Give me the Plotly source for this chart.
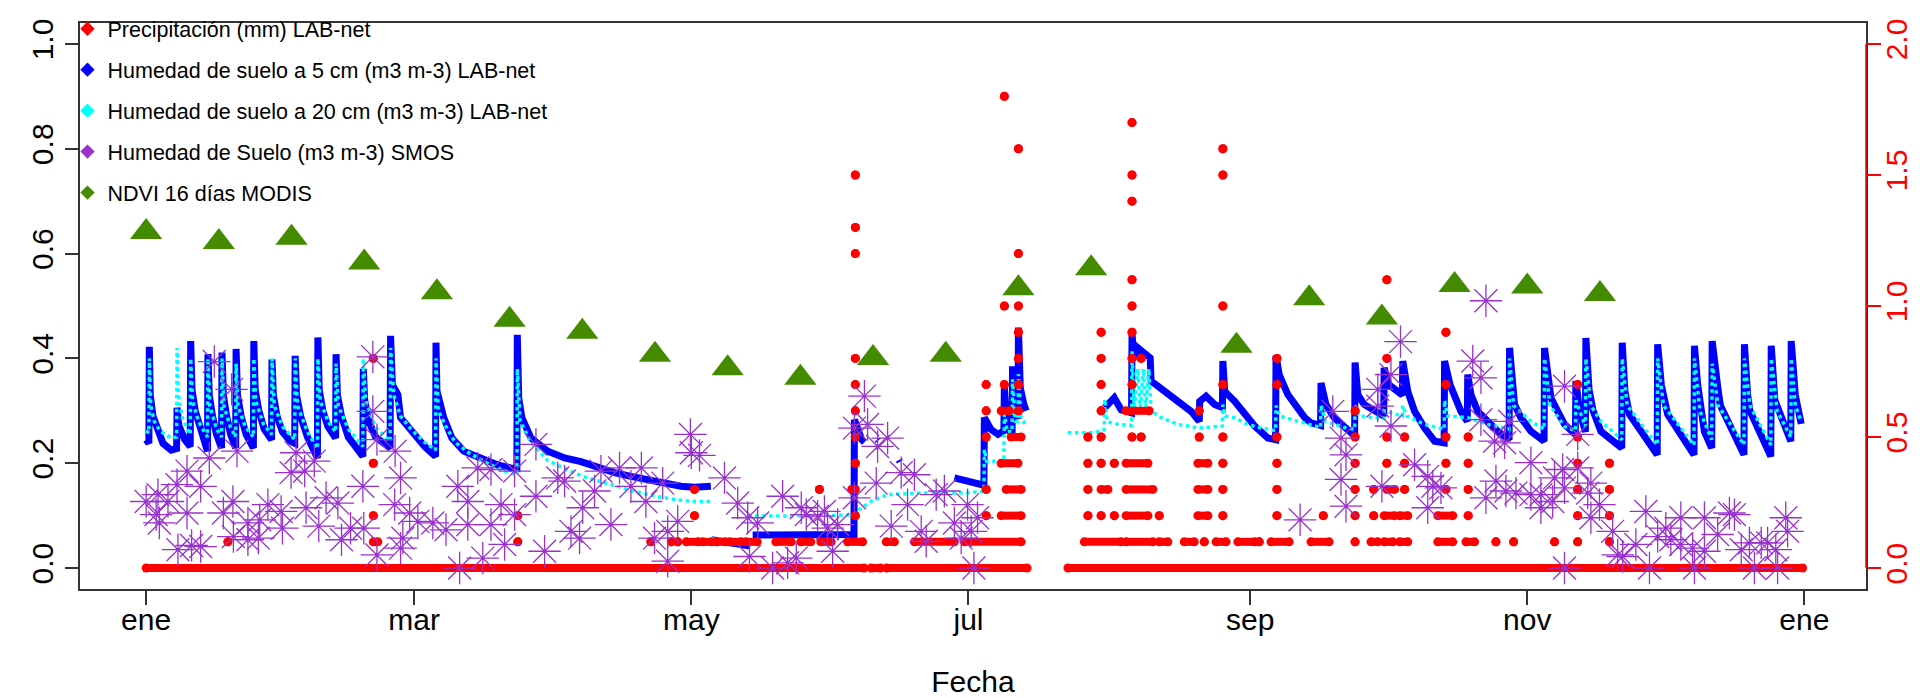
import pandas as pd
import plotly.graph_objects as go

# ---------------- data (day offsets from 1 January 2015) ----------------
start_date = "2015-01-01"

tick_dates = ["2015-01-01", "2015-03-01", "2015-05-01", "2015-07-01",
              "2015-09-01", "2015-11-01", "2016-01-01"]
tick_labels = ["ene", "mar", "may", "jul", "sep", "nov", "ene"]

legend_names = ["Precipitación (mm) LAB-net",
                "Humedad de suelo a 5 cm (m3 m-3) LAB-net",
                "Humedad de suelo a 20 cm (m3 m-3) LAB-net",
                "Humedad de Suelo (m3 m-3) SMOS",
                "NDVI 16 días MODIS"]

# NDVI 16-day MODIS
ndvi_day = [0, 16, 32, 48, 64, 80, 96, 112, 128, 144, 160, 176, 192, 208,
            240, 256, 272, 288, 304, 320]
ndvi_val = [0.641, 0.622, 0.630, 0.583, 0.526, 0.474, 0.451, 0.407, 0.381, 0.363,
            0.401, 0.407, 0.534, 0.572, 0.424, 0.515, 0.478, 0.540, 0.537, 0.523]

# SMOS soil moisture
smos_day = [0.0, 2.2, 2.6, 2.9, 4.8, 6.8, 7.0, 9.0, 9.0, 10.0, 12.0, 12.0, 13.9, 15.0,
            17.0, 18.8, 19.1, 19.2, 20.0, 22.4, 22.4, 24.7, 25.0, 26.8, 29.7, 30.0,
            31.9, 33.0, 34.9, 35.2, 37.0, 38.0, 39.6, 42.2, 43.0, 45.0, 47.7, 47.9,
            49.9, 49.9, 50.8, 50.8, 54.7, 54.8, 56.0, 56.0,
            58.0, 59.8, 63.1, 66.0, 56.5, 68.6, 69.0, 70.8, 70.8, 73.0, 74.1, 75.9,
            75.9, 78.1, 78.9, 81.1, 81.1, 85.8, 85.8, 87.7, 90.6, 92.1, 93.5, 95.4,
            96.1, 98.7, 100.1, 102.3, 104.2, 106.7, 109.0, 110.0, 111.9, 113.7,
            114.8, 114.8, 117.0, 119.8, 120.0,
            121.8, 127.3, 130.2, 132.4, 132.8, 134.6, 137.9, 140.1, 141.2, 143.1,
            144.2, 145.3, 147.8, 149.3, 150.0, 151.1, 152.2, 155.9, 155.9, 158.1,
            158.8, 160.7, 161.0, 163.2, 164.0, 166.2, 167.6, 169.1, 170.6, 171.7,
            173.9, 175.7, 177.9, 179.4, 180.8, 181.6, 182.2, 183.0,
            254.0, 261.2, 263.0, 264.1, 263.0, 264.1, 271.1, 271.1, 276.1, 274.0,
            274.0, 272.0, 279.2, 282.1, 283.2, 285.0, 282.1, 294.9, 292.0, 293.8,
            293.8, 296.8, 299.0, 300.1, 294.9, 297.1, 299.3, 301.5, 304.8, 304.8,
            307.0, 307.0, 309.6, 310.0, 312.2, 311.8, 312.2, 312.2,
            315.1, 315.1, 318.0, 317.3, 319.9, 318.0, 322.8, 323.9, 325.0, 327.9,
            330.1, 330.9, 332.7, 334.5, 335.6, 337.8, 337.8, 340.4, 340.8, 343.0,
            343.0, 345.9, 348.5, 349.6, 351.1, 352.9, 354.0, 355.5, 356.9, 358.7,
            359.1, 360.9, 361.3]
smos_val = [0.127, 0.102, 0.140, 0.086, 0.127, 0.159, 0.035, 0.185, 0.105, 0.043, 0.156,
            0.041, 0.210, 0.394, 0.105, 0.341, 0.127, 0.060, 0.223, 0.086, 0.054, 0.057,
            0.092, 0.121, 0.108, 0.076, 0.182, 0.220, 0.185, 0.115, 0.204, 0.080, 0.134,
            0.124, 0.054, 0.076, 0.156, 0.076, 0.403, 0.299, 0.245, 0.025, 0.121, 0.223,
            0.172, 0.038,
            0.105, 0.089, 0.086, 0.073, 0.057, 0.156, 0.000, 0.127, 0.083, 0.191, 0.019,
            0.188, 0.083, 0.121, 0.045, 0.185, 0.102, 0.137, 0.236, 0.032, 0.172, 0.166,
            0.070, 0.057, 0.115, 0.147, 0.185, 0.083, 0.191, 0.156, 0.191, 0.127, 0.057,
            0.162, 0.013, 0.070, 0.089, 0.255, 0.220,
            0.215, 0.172, 0.124, 0.096, 0.022, 0.086, 0.000, 0.137, 0.010, 0.019, 0.115,
            0.102, 0.099, 0.108, 0.076, 0.032, 0.083, 0.267, 0.134, 0.328, 0.274, 0.162,
            0.232, 0.248, 0.080, 0.182, 0.121, 0.178, 0.070, 0.051, 0.140, 0.147, 0.086,
            0.057, 0.121, 0.070, 0.000, 0.096,
            0.092, 0.299, 0.248, 0.216, 0.169, 0.118, 0.341, 0.309, 0.432, 0.369, 0.271,
            0.156, 0.197, 0.175, 0.156, 0.153, 0.115, 0.510, 0.395, 0.363, 0.283, 0.242,
            0.239, 0.280, 0.134, 0.166, 0.147, 0.143, 0.201, 0.140, 0.140, 0.115, 0.127,
            0.172, 0.347, 0.188, 0.153, 0.000,
            0.255, 0.191, 0.162, 0.143, 0.121, 0.096, 0.070, 0.025, 0.022, 0.045, 0.108,
            0.000, 0.060, 0.076, 0.054, 0.096, 0.045, 0.038, 0.000, 0.096, 0.032, 0.064,
            0.105, 0.102, 0.035, 0.048, 0.000, 0.048, 0.048, 0.035, 0.000, 0.096, 0.070]

# LAB-net soil moisture at 5 cm (None = no data)
sm5_day = [0.0, 0.6, 0.7, 0.9, 1.5, 2.6, 3.7, 5.5, 6.7,
           6.8, 7.2, 8.5, 9.7,
           9.8, 10.1, 10.8, 12.0, 13.5,
           13.6, 13.9, 14.6, 15.5, 16.6,
           16.7, 17.0, 17.7, 18.6, 19.7,
           19.8, 20.1, 20.9, 22.0, 23.6,
           23.7, 24.0, 24.8, 26.0, 27.6,
           27.7, 28.0, 28.8, 30.0, 31.7, 32.7,
           32.8, 33.1, 34.0, 35.5, 37.7,
           37.8, 38.1, 38.9, 40.0, 41.7,
           41.8, 42.1, 43.0, 44.5, 47.7,
           47.8, 48.1, 49.0, 50.5, 53.7,
           53.8, 54.2, 55.4, 56.0, 58.3, 61.3, 63.7,
           63.8, 64.0, 65.5, 67.3, 69.9, 73.6, 77.3, 80.2, 81.6,
           81.7, 82.0, 82.7, 84.7, 88.4, 92.1, 95.7, 99.4, 103.1, 106.7, 110.4, 114.1,
           117.7, 120.7, 124.3, None,
           124.5, 128.0, 133.0, None,
           133.5, 145.0, 155.8, 155.9, 156.5, 157.5, 158.1, None,
           160.9, 161.1, None, 165.7, 165.9, None,
           177.9, 181.0, 184.4, 184.5, 186.0, 187.5, 188.8, 188.9, 189.4, 190.6, 190.7,
           191.2, 191.9, 192.0, 192.4, 193.2, 193.7, None,
           211.0, 212.4, 213.1, 214.6, 216.9, 217.0, 217.5, 218.3, 221.0, 221.2, 223.4,
           227.1, 230.0, 231.8, 231.9, 233.3, 235.2, 236.9, 237.0, 237.4, 239.6, 241.8,
           244.0, 246.9, 248.6,
           248.7, 249.4, 251.3, 253.5, 255.0, 256.4, 258.5,
           258.6, 259.7, 261.5, 263.8, 266.0,
           266.1, 266.7, 268.1, 270.3, 272.4,
           272.5, 273.5, 276.5,
           276.6, 277.7, 279.2, 281.4, 283.6, 285.7,
           285.8, 287.0, 289.4, 290.8,
           290.9, 291.6, 293.1, 295.3, 297.5, 300.0,
           300.1, 301.2, 302.6, 304.8, 307.7,
           307.8, 309.2, 310.7, 312.2, 314.6,
           314.7, 315.5, 316.8,
           316.9, 317.6, 318.5, 320.2, 324.8,
           324.9, 325.5, 326.5, 332.6,
           332.7, 333.5, 334.9, 340.7,
           340.8, 341.5, 343.0, 344.6,
           344.7, 346.0, 346.5, 351.7,
           351.8, 352.5, 353.0, 357.6,
           357.7, 358.5, 362.0,
           362.1, 363.0, 364.3]
sm5_val = [0.245, 0.238, 0.422, 0.330, 0.290, 0.262, 0.238, 0.225, 0.228,
           0.306, 0.272, 0.245, 0.232,
           0.433, 0.340, 0.300, 0.260, 0.223,
           0.408, 0.330, 0.290, 0.255, 0.229,
           0.411, 0.330, 0.290, 0.255, 0.229,
           0.418, 0.330, 0.290, 0.255, 0.229,
           0.433, 0.340, 0.300, 0.265, 0.245,
           0.398, 0.330, 0.290, 0.260, 0.242, 0.238,
           0.405, 0.330, 0.290, 0.250, 0.210,
           0.440, 0.340, 0.300, 0.270, 0.248,
           0.408, 0.330, 0.290, 0.250, 0.213,
           0.380, 0.320, 0.280, 0.250, 0.229,
           0.443, 0.350, 0.331, 0.287, 0.261, 0.232, 0.213,
           0.430, 0.338, 0.287, 0.248, 0.223, 0.210, 0.197, 0.191, 0.190,
           0.445, 0.325, 0.287, 0.248, 0.223, 0.210, 0.203, 0.191, 0.182, 0.175, 0.169,
           0.160, 0.156, 0.154, 0.156, None,
           0.054, 0.048, 0.042, None,
           0.063, 0.062, 0.064, 0.283, 0.265, 0.245, 0.240, None,
           0.245, 0.243, None, 0.206, 0.203, None,
           0.172, 0.165, 0.158, 0.287, 0.264, 0.255, 0.262, 0.344, 0.270, 0.255, 0.385,
           0.300, 0.285, 0.459, 0.344, 0.312, 0.300, None,
           0.306, 0.318, 0.325, 0.302, 0.296, 0.446, 0.400, 0.420, 0.401, 0.357, 0.341,
           0.318, 0.299, 0.280, 0.318, 0.328, 0.312, 0.306, 0.395, 0.337, 0.318, 0.293,
           0.271, 0.248, 0.245,
           0.405, 0.369, 0.331, 0.306, 0.287, 0.277, 0.272,
           0.353, 0.312, 0.287, 0.267, 0.252,
           0.392, 0.331, 0.312, 0.299, 0.290,
           0.382, 0.350, 0.330,
           0.395, 0.337, 0.299, 0.267, 0.242, 0.239,
           0.395, 0.350, 0.299, 0.280,
           0.369, 0.331, 0.299, 0.280, 0.261, 0.245,
           0.420, 0.312, 0.287, 0.261, 0.242,
           0.420, 0.325, 0.299, 0.274, 0.255,
           0.357, 0.300, 0.260,
           0.439, 0.340, 0.300, 0.261, 0.229,
           0.430, 0.337, 0.293, 0.216,
           0.427, 0.350, 0.293, 0.216,
           0.424, 0.350, 0.260, 0.229,
           0.433, 0.340, 0.310, 0.216,
           0.427, 0.330, 0.300, 0.213,
           0.424, 0.320, 0.242,
           0.433, 0.330, 0.275]

# LAB-net soil moisture at 20 cm
sm20_day = [0.0, 0.6, 0.7, 1.0, 1.8, 3.0, 5.5, 6.7,
            6.8, 7.1, 8.0, 9.7,
            9.8, 10.2, 11.5, 13.5,
            13.6, 14.0, 15.5, 16.6,
            16.7, 17.1, 18.5, 19.7,
            19.8, 20.2, 21.8, 23.6,
            23.7, 24.1, 25.8, 27.6,
            27.7, 28.2, 30.0, 32.7,
            32.8, 33.3, 35.5, 37.7,
            37.8, 38.3, 40.0, 41.7,
            41.8, 42.3, 44.5, 47.7,
            47.8, 48.3, 50.5, 53.7,
            53.8, 54.5, 56.0, 58.3, 61.3, 63.7,
            63.8, 64.3, 66.0, 68.0, 71.0, 75.0, 79.0, 81.6,
            81.7, 82.3, 84.7, 88.4, 92.1, 96.0, 100.0, 104.0, 108.0, 112.0, 117.0,
            120.7, 124.3, None,
            124.4, 131.0, None,
            132.5, 140.0, 150.0, 155.8, 157.0, 159.5, 163.2, 170.0, 180.0, 184.4,
            184.5, 185.0, 188.8, 188.9, 189.5, 190.6, 190.7, 191.3, 191.9, 192.0, 192.5,
            193.7, None,
            202.9, 208.7, 210.9, 211.0, 211.5, 213.0, 216.9, 217.0, 217.5, 218.3, 218.8,
            219.5, 220.0, 220.7, 221.2, 223.4, 227.1, 231.9, 236.9, 237.0, 237.5, 239.6,
            241.8, 244.0, 248.6,
            248.7, 249.5, 253.5, 256.4, 258.5,
            258.6, 259.5, 263.8, 266.0,
            266.1, 267.0, 270.3, 272.4, 272.5, 276.5,
            276.6, 277.5, 281.4, 285.7,
            285.8, 286.5, 290.9, 295.3, 300.0,
            300.1, 301.0, 304.8, 307.7,
            307.8, 309.0, 312.2, 314.6,
            314.7, 316.8,
            316.9, 318.0, 320.2, 324.8,
            324.9, 326.0, 332.6,
            332.7, 334.0, 340.7,
            340.8, 342.0, 344.6,
            344.7, 346.0, 351.7,
            351.8, 353.0, 357.6,
            357.7, 359.0, 362.0,
            362.1, 363.0, 364.3]
sm20_val = [0.262, 0.258, 0.400, 0.310, 0.280, 0.262, 0.248, 0.250,
            0.420, 0.330, 0.285, 0.255,
            0.400, 0.320, 0.280, 0.250,
            0.400, 0.310, 0.265, 0.250,
            0.400, 0.310, 0.270, 0.250,
            0.390, 0.310, 0.270, 0.250,
            0.400, 0.320, 0.275, 0.255,
            0.400, 0.310, 0.270, 0.245,
            0.400, 0.310, 0.260, 0.228,
            0.400, 0.320, 0.280, 0.260,
            0.390, 0.310, 0.265, 0.232,
            0.400, 0.320, 0.268, 0.242,
            0.420, 0.330, 0.290, 0.265, 0.240, 0.225,
            0.400, 0.300, 0.270, 0.240, 0.220, 0.200, 0.185, 0.178,
            0.380, 0.280, 0.240, 0.205, 0.190, 0.175, 0.165, 0.155, 0.145, 0.137, 0.130,
            0.127, 0.127, None,
            0.057, 0.051, None,
            0.099, 0.099, 0.100, 0.102, 0.112, 0.127, 0.140, 0.143, 0.143, 0.146,
            0.226, 0.204, 0.204, 0.300, 0.260, 0.260, 0.360, 0.280, 0.280, 0.370, 0.290,
            0.270, None,
            0.258, 0.258, 0.264, 0.322, 0.280, 0.275, 0.272, 0.414, 0.300, 0.380, 0.300,
            0.380, 0.300, 0.380, 0.300, 0.287, 0.274, 0.267, 0.271, 0.312, 0.290, 0.287,
            0.277, 0.270, 0.262,
            0.310, 0.290, 0.280, 0.274, 0.268,
            0.310, 0.280, 0.268, 0.265,
            0.310, 0.290, 0.287, 0.285, 0.300, 0.290,
            0.310, 0.290, 0.274, 0.265,
            0.320, 0.290, 0.287, 0.274, 0.265,
            0.400, 0.310, 0.280, 0.265,
            0.400, 0.310, 0.270, 0.262,
            0.320, 0.270,
            0.400, 0.310, 0.280, 0.245,
            0.400, 0.310, 0.235,
            0.400, 0.310, 0.235,
            0.400, 0.300, 0.245,
            0.390, 0.310, 0.235,
            0.400, 0.310, 0.235,
            0.400, 0.300, 0.250,
            0.400, 0.310, 0.280]

# Precipitation (mm): runs of equal readings, start day, end day, value
precip_runs = [
    (0.0, 158.0, 0.0), (159.6, 161.6, 0.0), (163.0, 193.9, 0.0), (202.9, 364.6, 0.0),
    (18.0, 18.0, 0.1),
    (50.0, 50.0, 0.8), (50.0, 50.0, 0.4), (50.0, 50.0, 0.2), (50.0, 51.0, 0.1),
    (81.8, 81.8, 0.2), (81.8, 81.8, 0.1),
    (111.1, 111.1, 0.1), (115.6, 115.6, 0.1), (117.0, 117.0, 0.1), (118.9, 121.5, 0.1),
    (122.5, 124.5, 0.1), (125.5, 127.5, 0.1), (128.5, 131.0, 0.1), (132.0, 134.5, 0.1),
    (120.7, 120.7, 0.3), (120.7, 120.7, 0.2),
    (138.6, 142.0, 0.1), (144.1, 146.3, 0.1), (148.5, 150.8, 0.1), (148.2, 148.2, 0.3),
    (154.4, 157.7, 0.1),
    (156.1, 156.1, 1.5), (156.1, 156.1, 1.3), (156.1, 156.1, 1.2), (156.1, 156.1, 0.8),
    (156.1, 156.1, 0.7), (156.1, 156.1, 0.6), (156.1, 156.1, 0.5), (156.1, 156.1, 0.4),
    (155.3, 156.1, 0.3), (156.1, 156.1, 0.2),
    (162.9, 164.7, 0.1), (169.1, 177.9, 0.1), (180.1, 192.6, 0.1),
    (184.9, 184.9, 0.7), (184.9, 184.9, 0.6), (184.9, 184.9, 0.5), (184.9, 184.9, 0.3),
    (184.9, 184.9, 0.2),
    (188.2, 192.6, 0.2), (189.3, 192.6, 0.3), (188.2, 191.9, 0.4), (190.4, 192.6, 0.5),
    (188.2, 190.0, 0.6), (192.0, 192.0, 0.6), (188.9, 188.9, 0.7), (192.0, 192.0, 0.7),
    (192.0, 192.0, 0.8), (192.0, 192.0, 0.9), (188.9, 188.9, 1.0), (192.0, 192.0, 1.0),
    (192.0, 192.0, 1.2), (192.0, 192.0, 1.6), (188.9, 188.9, 1.8),
    (206.5, 214.6, 0.1), (207.3, 207.3, 0.2), (210.2, 210.2, 0.2), (213.1, 213.1, 0.2),
    (207.3, 207.3, 0.3), (210.2, 211.7, 0.3), (207.3, 207.3, 0.4), (210.2, 210.2, 0.4),
    (213.1, 213.1, 0.4), (207.3, 207.3, 0.5), (210.2, 210.2, 0.5), (210.2, 210.2, 0.6),
    (210.2, 210.2, 0.7), (210.2, 210.2, 0.8), (210.2, 210.2, 0.9),
    (215.7, 221.6, 0.1), (223.0, 224.9, 0.1), (215.7, 220.5, 0.2), (223.0, 223.0, 0.2),
    (215.7, 221.6, 0.3), (215.7, 220.5, 0.4), (217.0, 217.0, 0.5), (219.0, 219.0, 0.5),
    (215.7, 220.8, 0.6), (217.0, 217.0, 0.7), (217.0, 217.0, 0.8), (219.0, 219.0, 0.8),
    (217.0, 217.0, 0.9), (217.0, 217.0, 1.0), (217.0, 217.0, 1.1), (217.0, 217.0, 1.4),
    (217.0, 217.0, 1.5), (217.0, 217.0, 1.7),
    (228.5, 230.7, 0.1), (232.9, 232.9, 0.1), (231.5, 233.7, 0.2), (231.5, 233.7, 0.3),
    (231.5, 233.7, 0.4), (231.8, 231.8, 0.5), (231.8, 231.8, 0.6),
    (235.5, 237.7, 0.1), (237.0, 237.0, 0.2), (237.0, 237.0, 0.3), (237.0, 237.0, 0.4),
    (237.0, 237.0, 0.5), (237.0, 237.0, 0.7), (237.0, 237.0, 1.0), (237.0, 237.0, 1.5),
    (237.0, 237.0, 1.6),
    (240.3, 244.0, 0.1), (245.0, 245.0, 0.1),
    (247.6, 251.6, 0.1), (248.9, 248.9, 0.2), (248.9, 248.9, 0.3), (248.9, 248.9, 0.4),
    (248.9, 248.9, 0.5), (248.9, 248.9, 0.7), (248.9, 248.9, 0.8),
    (256.4, 260.4, 0.1), (259.1, 259.1, 0.2),
    (266.1, 266.1, 0.1), (266.1, 266.1, 0.2), (266.1, 266.1, 0.3), (266.1, 266.1, 0.4),
    (266.1, 266.1, 0.5), (266.1, 266.1, 0.6),
    (269.6, 271.1, 0.1), (272.5, 274.4, 0.1), (270.2, 270.2, 0.2), (272.5, 274.8, 0.2),
    (270.2, 270.2, 0.3), (273.1, 274.8, 0.3), (273.1, 273.1, 0.4), (273.1, 273.1, 0.5),
    (273.1, 273.1, 0.8), (273.1, 273.1, 1.1),
    (275.9, 277.7, 0.1), (275.9, 277.7, 0.2), (277.0, 277.0, 0.3), (277.0, 277.0, 0.4),
    (277.0, 277.0, 0.5),
    (284.3, 287.6, 0.1), (284.3, 287.6, 0.2), (286.1, 286.1, 0.3), (286.1, 286.1, 0.4),
    (286.1, 286.1, 0.5), (286.1, 286.1, 0.7), (286.1, 286.1, 0.9),
    (290.5, 292.4, 0.1), (291.0, 291.0, 0.2), (291.0, 291.0, 0.3), (291.0, 291.0, 0.4),
    (291.0, 291.0, 0.5),
    (297.1, 297.1, 0.1), (301.0, 301.0, 0.1), (310.0, 310.0, 0.1),
    (315.1, 315.1, 0.1), (315.1, 315.1, 0.2), (315.1, 315.1, 0.3), (315.1, 315.1, 0.4),
    (315.1, 315.1, 0.5), (315.1, 315.1, 0.7),
    (322.1, 322.1, 0.1), (322.1, 322.1, 0.2), (322.1, 322.1, 0.3), (322.1, 322.1, 0.4),
]

# ---------------- helpers ----------------
base = pd.Timestamp(start_date)


def to_dates(days):
    return [None if d is None else (base + pd.Timedelta(days=d)).strftime("%Y-%m-%d %H:%M:%S")
            for d in days]


prec_x, prec_y = [], []
for s, e, v in precip_runs:
    prec_x += [s, e, None]
    prec_y += [v, v, None]

RED = "#FF0000"
BLUE = "#0000FF"
CYAN = "#00FFFF"
PURPLE = "#9932CC"
GREEN = "#458B00"
FONT = "Liberation Sans, Arial, sans-serif"

fig = go.Figure()

# legend-only entries (R style diamond keys)
for name, col in zip(legend_names, [RED, BLUE, CYAN, PURPLE, GREEN]):
    fig.add_trace(go.Scatter(x=[None], y=[None], mode="markers", name=name,
                             legendgroup=name,
                             marker=dict(symbol="diamond", size=11, color=col)))

fig.add_trace(go.Scatter(x=to_dates(sm5_day), y=sm5_val, mode="lines", showlegend=False,
                         line=dict(color=BLUE, width=7), connectgaps=False,
                         hoverinfo="skip", yaxis="y"))
fig.add_trace(go.Scatter(x=to_dates(sm20_day), y=sm20_val, mode="lines", showlegend=False,
                         line=dict(color=CYAN, width=3.5, dash="dot"), connectgaps=False,
                         hoverinfo="skip", yaxis="y"))
fig.add_trace(go.Scatter(x=to_dates(prec_x), y=prec_y, mode="lines+markers", showlegend=False,
                         line=dict(color=RED, width=8), marker=dict(color=RED, size=9),
                         connectgaps=False, hoverinfo="skip", yaxis="y2"))
fig.add_trace(go.Scatter(x=to_dates(smos_day), y=smos_val, mode="markers", showlegend=False,
                         marker=dict(symbol="asterisk-open", size=27, color=PURPLE,
                                     line=dict(width=1.3, color=PURPLE)),
                         hoverinfo="skip", yaxis="y3"))
fig.add_trace(go.Scatter(x=to_dates(ndvi_day), y=ndvi_val, mode="markers", showlegend=False,
                         marker=dict(symbol="triangle-up", size=28, color=GREEN),
                         hoverinfo="skip", yaxis="y3"))

x_range = to_dates([-14.56, 378.56])
left_range = [-0.04, 1.04]

fig.update_layout(
    width=1920, height=698,
    margin=dict(l=72, r=62, t=15, b=117, pad=0, autoexpand=False),
    paper_bgcolor="white", plot_bgcolor="white",
    font=dict(family=FONT, color="black"),
    hovermode=False,
    xaxis=dict(type="date", range=x_range, tickvals=tick_dates, ticktext=tick_labels,
               ticks="outside", ticklen=14, tickwidth=1.5, tickcolor="#333333",
               showline=True, mirror=True, linecolor="#333333", linewidth=2,
               showgrid=False, zeroline=False, tickfont=dict(size=30),
               ticklabelstandoff=-11, automargin=False,
               title=dict(text="Fecha", font=dict(size=30), standoff=36)),
    yaxis=dict(range=left_range, tickvals=[0, 0.2, 0.4, 0.6, 0.8, 1.0],
               ticktext=["0.0", "0.2", "0.4", "0.6", "0.8", "1.0"], tickangle=-90,
               ticks="outside", ticklen=13, tickwidth=1.5, tickcolor="#333333",
               showline=True, mirror=True, linecolor="#333333", linewidth=2,
               showgrid=False, zeroline=False, tickfont=dict(size=30),
               ticklabelstandoff=0, automargin=False),
    yaxis2=dict(overlaying="y", side="right", range=[-0.08, 2.08],
                tickvals=[0, 0.5, 1.0, 1.5, 2.0], ticktext=["0.0", "0.5", "1.0", "1.5", "2.0"],
                tickangle=-90, ticks="outside", ticklen=14, tickwidth=1.5, tickcolor=RED,
                tickfont=dict(size=30, color=RED), showline=False, showgrid=False,
                zeroline=False, ticklabelstandoff=-10, automargin=False),
    yaxis3=dict(overlaying="y", range=left_range, visible=False),
    legend=dict(x=-0.007, y=1.026, xanchor="left", yanchor="top", bgcolor="rgba(0,0,0,0)",
                font=dict(size=21.5, family=FONT), tracegroupgap=10, itemwidth=30),
    shapes=[dict(type="line", xref="paper", x0=1, x1=1, yref="y2", y0=0, y1=2,
                 line=dict(color=RED, width=1.5))],
)

fig.write_html("out.html")
